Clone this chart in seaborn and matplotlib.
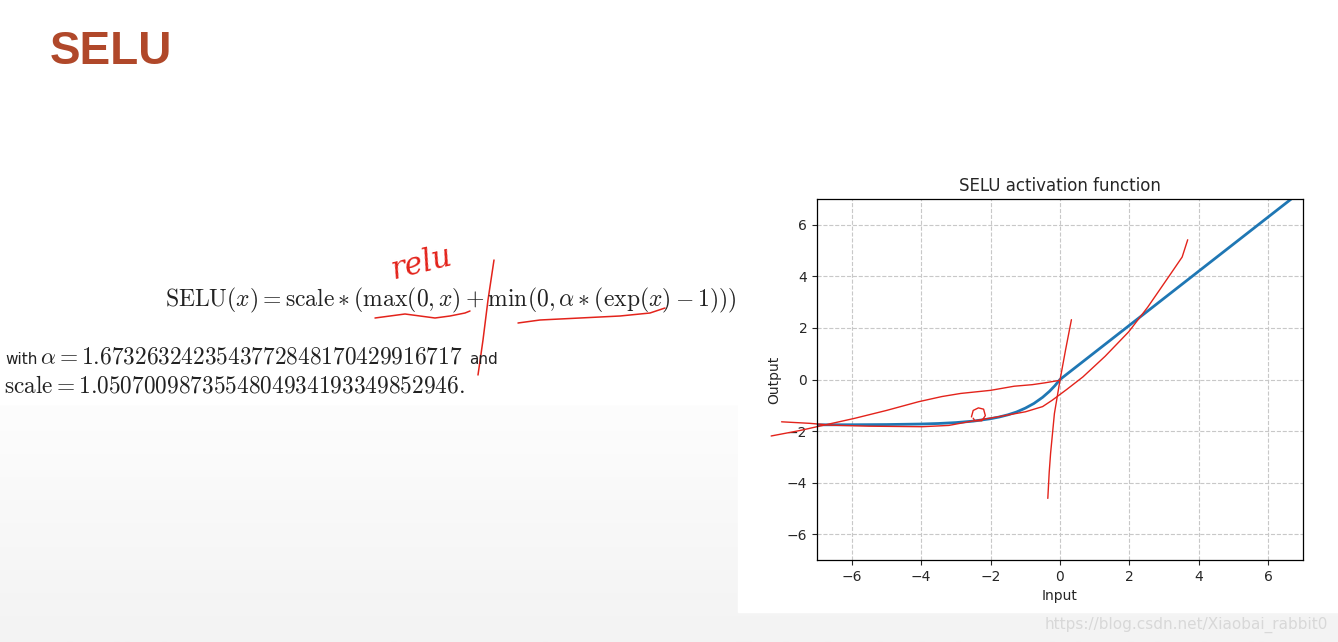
import matplotlib
matplotlib.use('Agg')
import matplotlib.pyplot as plt
from matplotlib.colors import LinearSegmentedColormap
import seaborn as sns
import pandas as pd
import numpy as np

# SELU curve, values
selu_x = [-7, -6, -5, -4, -3.5, -3, -2.5, -2, -1.75, -1.5, -1.25, -1, -0.75, -0.5, -0.3, -0.15, 0, 7]
selu_y = [-1.757, -1.754, -1.746, -1.726, -1.705, -1.671, -1.614, -1.520, -1.454, -1.369,
          -1.259, -1.111, -0.928, -0.690, -0.455, -0.245, 0, 7.355]
ticks = [-6, -4, -2, 0, 2, 4, 6]

# red pen strokes over the chart (chart data units)
pen_a_x = [-8.32, -7.5, -6.7, -5.93, -5.0, -4.07, -3.4, -2.86, -2.0, -1.32, -0.8, -0.44, 0.0]
pen_a_y = [-2.19, -1.98, -1.74, -1.51, -1.2, -0.86, -0.66, -0.54, -0.42, -0.26, -0.2, -0.13, -0.03]
pen_b_x = [-8.02, -7.2, -6.6, -5.5, -3.96, -3.2, -2.64, -1.8, -0.99, -0.5, -0.22, 0.2, 0.66,
           1.3, 1.98, 2.53, 3.19, 3.52, 3.68]
pen_b_y = [-1.64, -1.70, -1.77, -1.81, -1.83, -1.78, -1.64, -1.45, -1.25, -1.05, -0.80, -0.38, 0.10,
           0.9, 1.85, 2.81, 4.10, 4.75, 5.42]
pen_c_x = [-0.35, -0.31, -0.27, -0.16, 0.0, 0.16, 0.33]
pen_c_y = [-4.61, -3.6, -2.86, -1.32, -0.03, 1.14, 2.32]
pen_o_x = [-2.55, -2.5, -2.35, -2.2, -2.15, -2.25, -2.45, -2.5]
pen_o_y = [-1.45, -1.2, -1.1, -1.15, -1.4, -1.6, -1.6, -1.5]

# red pen strokes over the formula (slide pixels)
ul1_x = [375, 390, 405, 420, 435, 450, 465, 470]
ul1_y = [318, 316, 314, 316, 318, 316, 313, 311]
slash_x = [494, 488, 483, 478]
slash_y = [260, 300, 340, 375]
ul2_x = [518, 540, 580, 620, 650, 665]
ul2_y = [323, 320, 318, 316, 313, 308]

sns.set_style('white')
pen = '#e3231b'

fig = plt.figure(figsize=(13.38, 6.42), dpi=100)
fig.patch.set_facecolor('white')

# slide background in pixel units
bg = fig.add_axes([0, 0, 1, 1])
shade_cmap = LinearSegmentedColormap.from_list('shade', ['#fdfdfd', '#f3f3f3'])
shade = np.linspace(0, 1, 100).reshape(-1, 1)
bg.imshow(shade, extent=(0, 1338, 642, 405), aspect='auto', cmap=shade_cmap, zorder=0)
bg.add_patch(plt.Rectangle((738, 160), 600, 452, color='white', zorder=1))
bg.set_xlim(0, 1338)
bg.set_ylim(642, 0)
bg.axis('off')

bg.text(50, 52, 'SELU', fontsize=33, fontweight='bold', color='#b0482a',
        family='Liberation Sans', va='center', ha='left')

bg.text(737, 300, r'$\mathrm{SELU}(x) = \mathrm{scale} * (\max(0, x) + \min(0, \alpha * (\exp(x) - 1)))$',
        fontsize=17, math_fontfamily='cm', ha='right', va='center', color='#222222')
bg.text(5, 359, 'with', fontsize=11, ha='left', va='center', color='#222222')
bg.text(40, 357, r'$\alpha = 1.6732632423543772848170429916717$',
        fontsize=16.8, math_fontfamily='cm', ha='left', va='center', color='#222222')
bg.text(469, 359, 'and', fontsize=11, ha='left', va='center', color='#222222')
bg.text(4, 386, r'$\mathrm{scale} = 1.0507009873554804934193349852946.$',
        fontsize=16.8, math_fontfamily='cm', ha='left', va='center', color='#222222')

bg.text(388, 263, 'relu', fontsize=22, color=pen, family='DejaVu Serif', style='italic',
        rotation=14, ha='left', va='center')
for xs, ys in [(ul1_x, ul1_y), (slash_x, slash_y), (ul2_x, ul2_y)]:
    bg.plot(xs, ys, color=pen, lw=1.1)

bg.text(1328, 625, 'https://blog.csdn.net/Xiaobai_rabbit0', fontsize=11, color='#d8d8d8',
        ha='right', va='center')

# the chart
ax = fig.add_axes([0.6106, 0.1277, 0.3632, 0.5623])
df = pd.DataFrame({'Input': selu_x, 'Output': selu_y})
sns.lineplot(data=df, x='Input', y='Output', sort=False, estimator=None,
             color='#1f77b4', lw=2, ax=ax)
ax.set_xlim(-7, 7)
ax.set_ylim(-7, 7)
ax.set_xticks(ticks)
ax.set_yticks(ticks)
ax.tick_params(labelsize=10, length=3.5, width=0.8, direction='out', left=True, bottom=True)
ax.grid(True, linestyle='--', color='#c8c8c8', lw=0.8)
ax.set_title('SELU activation function', fontsize=12)
ax.set_xlabel('Input', fontsize=10)
ax.set_ylabel('Output', fontsize=10)
for s in ax.spines.values():
    s.set_color('black')
    s.set_linewidth(0.9)

for xs, ys in [(pen_a_x, pen_a_y), (pen_b_x, pen_b_y), (pen_c_x, pen_c_y), (pen_o_x, pen_o_y)]:
    ax.plot(xs, ys, color=pen, lw=1, clip_on=False)

fig.savefig('out.png', dpi=100)
